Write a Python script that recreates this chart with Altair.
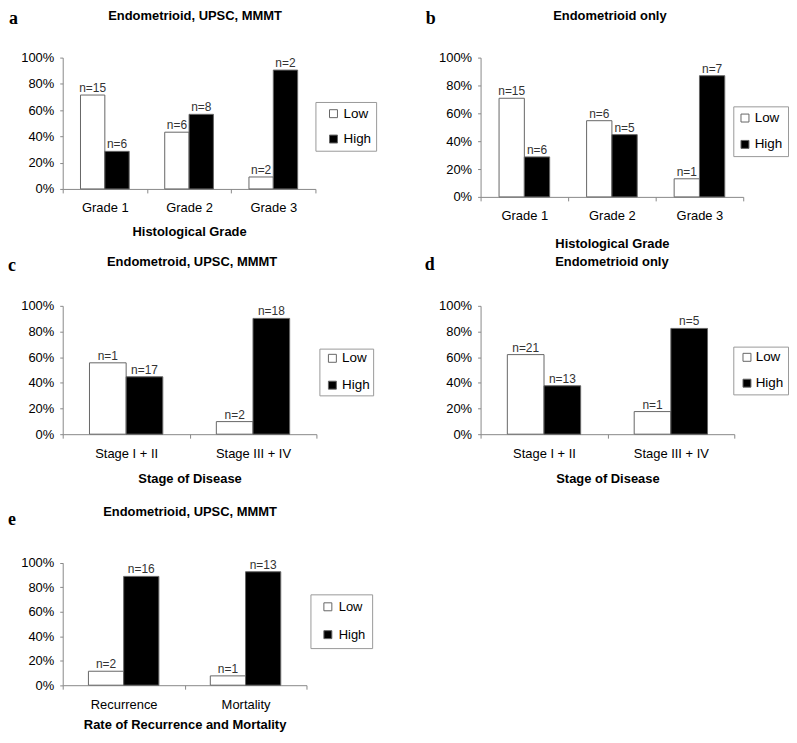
import altair as alt
import pandas as pd

groups = ["Low", "High"]

# Panel a
a_cats = ["Grade 1", "Grade 2", "Grade 3"]
a_low = [71.5, 43.2, 9.1]
a_high = [28.6, 56.8, 90.5]
a_low_n = ["n=15", "n=6", "n=2"]
a_high_n = ["n=6", "n=8", "n=2"]

# Panel b
b_cats = ["Grade 1", "Grade 2", "Grade 3"]
b_low = [70.8, 54.7, 13.0]
b_high = [28.7, 44.7, 87.0]
b_low_n = ["n=15", "n=6", "n=1"]
b_high_n = ["n=6", "n=5", "n=7"]

# Panel c
c_cats = ["Stage I + II", "Stage III + IV"]
c_low = [55.6, 9.8]
c_high = [44.7, 90.2]
c_low_n = ["n=1", "n=2"]
c_high_n = ["n=17", "n=18"]

# Panel d
d_cats = ["Stage I + II", "Stage III + IV"]
d_low = [62.0, 17.6]
d_high = [37.7, 82.4]
d_low_n = ["n=21", "n=1"]
d_high_n = ["n=13", "n=5"]

# Panel e
e_cats = ["Recurrence", "Mortality"]
e_low = [11.4, 7.6]
e_high = [88.9, 92.7]
e_low_n = ["n=2", "n=1"]
e_high_n = ["n=16", "n=13"]

SANS = "Liberation Sans"
SERIF = "Liberation Serif"


def panel(letter, title, cats, low, high, low_n, high_n, xtitle,
          width, height, top, letter_x, letter_y, title_x, title_y,
          leg, x_title_pad):
    rows = []
    for c, lv, hv, ln, hn in zip(cats, low, high, low_n, high_n):
        rows.append({"cat": c, "grp": "Low", "val": lv / 100, "n": ln})
        rows.append({"cat": c, "grp": "High", "val": hv / 100, "n": hn})
    df = pd.DataFrame(rows)

    x = alt.X("cat:N", sort=cats,
              scale=alt.Scale(paddingInner=0, paddingOuter=0),
              axis=alt.Axis(title=xtitle, labelAngle=0, tickBand="extent",
                            tickSize=4, labelPadding=9, titlePadding=x_title_pad))
    xo = alt.XOffset("grp:N", sort=groups,
                     scale=alt.Scale(domain=groups, paddingInner=0, paddingOuter=0.73))
    y = alt.Y("val:Q", scale=alt.Scale(domain=[0, 1], nice=False, range=[height, top]),
              axis=alt.Axis(values=[0, 0.2, 0.4, 0.6, 0.8, 1], format=".0%",
                            title=None, tickSize=3, labelPadding=6))

    bars = alt.Chart(df).mark_bar(stroke="#666666", strokeWidth=1).encode(
        x=x, xOffset=xo, y=y,
        fill=alt.Fill("grp:N", sort=groups,
                      scale=alt.Scale(domain=groups, range=["white", "black"]),
                      legend=alt.Legend(title=None, orient="none",
                                        legendX=leg["x"], legendY=top + leg["y"],
                                        direction="vertical",
                                        symbolType="square", symbolSize=64,
                                        symbolStrokeColor="#666666",
                                        symbolStrokeWidth=1,
                                        symbolOffset=leg["so"],
                                        labelFont=SANS, labelFontSize=leg["fs"],
                                        labelColor="black",
                                        strokeColor="#999999",
                                        fillColor="white",
                                        padding=leg["p"], rowPadding=leg["rp"],
                                        labelOffset=leg["lo"])),
    )
    labels = alt.Chart(df).mark_text(
        baseline="alphabetic", dy=-3, fontSize=12, font=SANS, color="#333333"
    ).encode(x=x, xOffset=xo, y=y, text="n:N")

    let = alt.Chart(pd.DataFrame({"t": [letter]})).mark_text(
        align="left", baseline="middle", font=SERIF, fontWeight="bold",
        fontSize=18, color="black"
    ).encode(x=alt.value(letter_x), y=alt.value(top + letter_y), text="t:N")

    ttl = alt.Chart(pd.DataFrame({"t": [title]})).mark_text(
        align="center", baseline="middle", font=SANS, fontWeight="bold",
        fontSize=13, color="black"
    ).encode(x=alt.value(title_x), y=alt.value(top + title_y), text="t:N")

    return alt.layer(bars, labels, let, ttl).properties(width=width, height=height)


pa = panel("a", "Endometrioid, UPSC, MMMT", a_cats, a_low, a_high, a_low_n, a_high_n,
           "Histological Grade", 254, 132, 0, -54, -39, 133, -42,
           dict(x=254, y=44.6, p=5, so=6.4, lo=3.3, rp=10.5, fs=13.5), 10.5)
pb = panel("b", "Endometrioid only", b_cats, b_low, b_high, b_low_n, b_high_n,
           "Histological Grade", 264, 140, 0, -55, -39, 130, -42,
           dict(x=254, y=49, p=5, so=0, lo=3, rp=11.5, fs=13.5), 14.6)
pc = panel("c", "Endometroid, UPSC, MMMT", c_cats, c_low, c_high, c_low_n, c_high_n,
           "Stage of Disease", 255, 129, 0, -55, -40, 130, -44,
           dict(x=258, y=43, p=3, so=3.3, lo=3, rp=12, fs=13.5), 12.9)
pd_ = panel("d", "Endometrioid only", d_cats, d_low, d_high, d_low_n, d_high_n,
            "Stage of Disease", 255, 129, 0, -56, -41, 132, -44,
            dict(x=254, y=41, p=4, so=3, lo=2, rp=11, fs=13.5), 12.9)
pe = panel("e", "Endometrioid, UPSC, MMMT", e_cats, e_low, e_high, e_low_n, e_high_n,
           "Rate of Recurrence and Mortality", 245, 142.8, 19.8, -55, -43.5, 128, -51,
           dict(x=249, y=31.7, p=6, so=5, lo=4.4, rp=14, fs=13), 7.6)

chart = alt.concat(
    pa, pb, pc, pd_, pe, columns=2,
    spacing={"row": 109.5, "column": 165}, bounds="flush",
).resolve_scale(
    fill="independent", x="independent", y="independent", xOffset="independent"
).resolve_legend(fill="independent").properties(
    padding=0
).configure_view(
    stroke=None
).configure_axis(
    domainColor="#888888", tickColor="#888888", grid=False,
    labelFont=SANS, labelFontSize=13, labelColor="black",
    titleFont=SANS, titleFontSize=13, titleFontWeight="bold", titleColor="black",
)

chart.save("out.html", embed_options={"renderer": "svg", "actions": False})
